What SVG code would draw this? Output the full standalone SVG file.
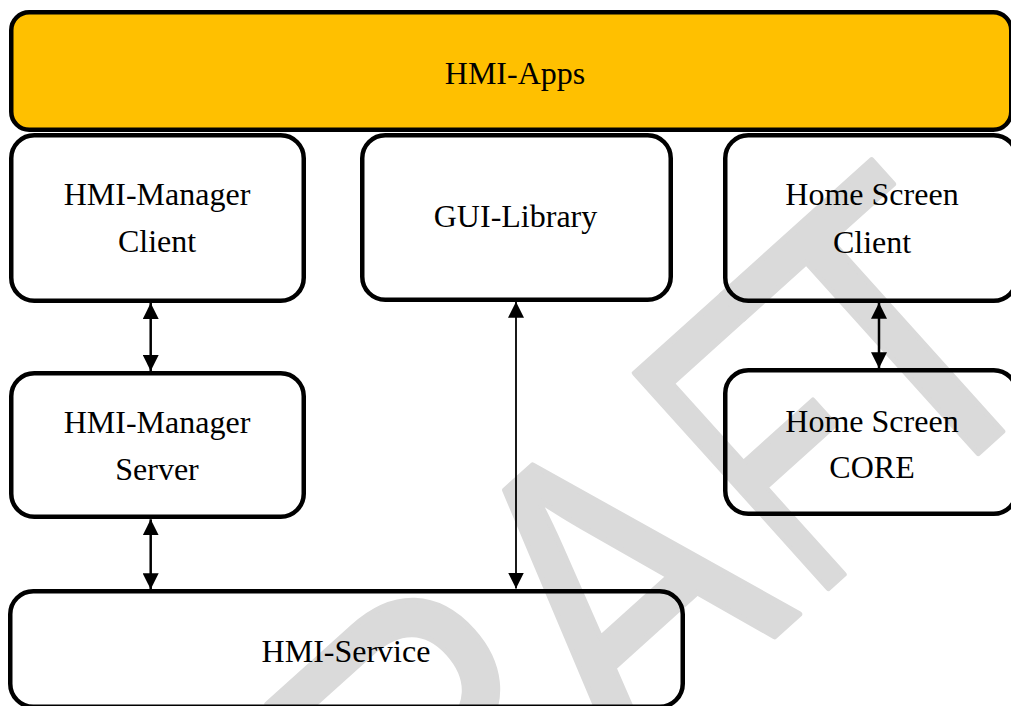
<svg xmlns="http://www.w3.org/2000/svg" width="1011" height="706" viewBox="0 0 1011 706">
  <style>
    .box{fill:none;stroke:#000;stroke-width:4.5}
    .apps{fill:#FFC000;stroke:#000;stroke-width:4.5}
    .lbl{font-family:"Liberation Serif","Times New Roman",serif;font-size:32px;fill:#000;text-anchor:middle}
    .wm{font-family:"Liberation Sans",Arial,sans-serif;font-size:420px;fill:#dadada;stroke:#dadada;stroke-width:6;stroke-linejoin:round}
    .conn{stroke:#000;fill:none}
  </style>
  <defs>
    <marker id="ah" viewBox="0 0 16 16" refX="16" refY="8" markerWidth="16" markerHeight="16" markerUnits="userSpaceOnUse" orient="auto-start-reverse">
      <path d="M0,0 L16,8 L0,16 Z" fill="#000"/>
    </marker>
  </defs>
  <rect width="1011" height="706" fill="#fff"/>
  <g id="watermark">
    <text class="wm" transform="translate(438.7 938.8) rotate(-42) scale(0.85 1)" y="0"><tspan x="-303">D</tspan><tspan x="0">R</tspan><tspan x="292">A</tspan><tspan x="592" textLength="175" lengthAdjust="spacingAndGlyphs">F</tspan><tspan x="745">T</tspan></text>
  </g>
  <g id="connectors">
    <line class="conn" x1="150.7" y1="303" x2="150.7" y2="371" stroke-width="2.5" marker-start="url(#ah)" marker-end="url(#ah)"/>
    <line class="conn" x1="150.7" y1="519.3" x2="150.7" y2="589.3" stroke-width="2.5" marker-start="url(#ah)" marker-end="url(#ah)"/>
    <line class="conn" x1="516" y1="301.7" x2="516" y2="588.5" stroke-width="1.8" marker-start="url(#ah)" marker-end="url(#ah)"/>
    <line class="conn" x1="879" y1="302.7" x2="879" y2="368.3" stroke-width="2.5" marker-start="url(#ah)" marker-end="url(#ah)"/>
  </g>
  <g id="hmi-apps">
    <rect class="apps" x="11.25" y="12.25" width="1000" height="117.5" rx="18"/>
    <text class="lbl" x="515" y="84">HMI-Apps</text>
  </g>
  <g id="hmi-manager-client">
    <rect class="box" x="11.25" y="135.25" width="292.5" height="165.5" rx="23"/>
    <text class="lbl" x="157" y="204.5">HMI-Manager</text>
    <text class="lbl" x="157" y="252">Client</text>
  </g>
  <g id="gui-library">
    <rect class="box" x="362.25" y="135.25" width="308.5" height="164.5" rx="23"/>
    <text class="lbl" x="515.5" y="227">GUI-Library</text>
  </g>
  <g id="home-screen-client">
    <rect class="box" x="725.25" y="135.25" width="291.5" height="165.5" rx="23"/>
    <text class="lbl" x="872" y="205">Home Screen</text>
    <text class="lbl" x="872" y="253">Client</text>
  </g>
  <g id="hmi-manager-server">
    <rect class="box" x="11.25" y="373.25" width="292.5" height="143.5" rx="23"/>
    <text class="lbl" x="157" y="432.7">HMI-Manager</text>
    <text class="lbl" x="157" y="480">Server</text>
  </g>
  <g id="home-screen-core">
    <rect class="box" x="725.25" y="370.25" width="291.5" height="143.5" rx="23"/>
    <text class="lbl" x="872" y="431.7">Home Screen</text>
    <text class="lbl" x="872" y="478.3">CORE</text>
  </g>
  <g id="hmi-service">
    <rect class="box" x="10.25" y="591.25" width="672.5" height="115.5" rx="23"/>
    <text class="lbl" x="346" y="662">HMI-Service</text>
  </g>
</svg>
